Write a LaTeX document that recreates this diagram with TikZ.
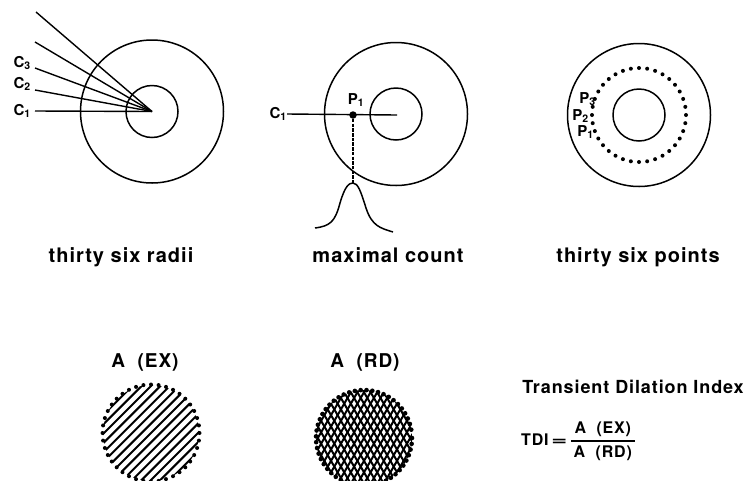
\documentclass[tikz,border=0pt]{standalone}
\usepackage{fontspec}
\setmainfont{TeX Gyre Heros}
\newfontfamily\widefont[LetterSpace=5]{TeX Gyre Heros}
\usetikzlibrary{calc}

\tikzset{
  ring/.style={line width=1.5pt},
  ray/.style={line width=1.4pt},
  lab/.style={inner sep=0pt,font=\bfseries\fontsize{15}{17}\selectfont},
  caption/.style={inner sep=0pt,anchor=base,font=\widefont\bfseries\fontsize{20}{24}\selectfont},
  title/.style={inner sep=0pt,anchor=base,font=\widefont\bfseries\fontsize{19}{22}\selectfont},
  dotpt/.style={circle,fill,inner sep=0pt,minimum size=#1},
}

\begin{document}
\begin{tikzpicture}[x=1pt,y=-1pt]
\useasboundingbox (0,0) rectangle (746,480);
\def\R{71.5}
\def\r{26}

% thirty six radii
\coordinate (o1) at (152,111.5);
\draw[ring] (o1) circle (\R) (o1) circle (\r);
\coordinate (e1) at (35,111);
\coordinate (e2) at (35,90);
\coordinate (e3) at (35,68);
\coordinate (e4) at (35,42);
\coordinate (e5) at (36,12);
\node[lab,anchor=east] (c1) at (31,111) {C\textsubscript{1}};
\node[lab,anchor=east] (c2) at (31,84) {C\textsubscript{2}};
\node[lab,anchor=east] (c3) at (31,63) {C\textsubscript{3}};
\foreach \i in {1,...,5}
  \draw[ray] (e\i) -- (o1);
\node[caption] (cap1) at (121,262) {thirty six radii};

% maximal count
\coordinate (o2) at (396,114);
\draw[ring] (o2) circle (\R) (o2) circle (\r);
\node[lab,anchor=east] (c1b) at (287,114) {C\textsubscript{1}};
\draw[ray] (c1b.east) -- ($(o2)+(1,1)$);
\node[dotpt=7.5pt] (p1) at (353,115) {};
\node[lab] (p1lab) at (356,100) {P\textsubscript{1}};
\coordinate (peak) at (353,183);
\draw[line width=2.4pt,dash pattern=on 3.5pt off 1.2pt] (p1) -- (peak);
\draw[ring] (315,228) .. controls (330,226) and (335,222) .. (340,203)
  .. controls (345,186) and (349,183) .. (peak)
  .. controls (358,183) and (361,192) .. (366,208)
  .. controls (372,226) and (380,228) .. (393,232);
\node[caption] (cap2) at (388,262) {maximal count};

% thirty six points
\coordinate (o3) at (639,115);
\draw[ring] (o3) circle (\R) (o3) circle (\r);
\foreach \a in {0,10,...,350}
  \fill ($(o3)+(\a:47)$) circle (2);
\node[lab,anchor=east] (p1c) at ($(o3)+(160:47)+(-1,1)$) {P\textsubscript{1}};
\node[lab,anchor=east] (p2c) at ($(o3)+(180:47)+(-3,1)$) {P\textsubscript{2}};
\node[lab,anchor=east] (p3c) at ($(o3)+(200:47)+(1,0)$) {P\textsubscript{3}};
\node[caption] (cap3) at (638,262) {thirty six points};

% A (EX)
\node[title] (ex) at (145,367) {A\ \ (EX)};
\coordinate (exc) at (151,433);
\begin{scope}
  \clip (exc) circle (48);
  \foreach \k in {-8,...,8}
    \draw[line width=2pt] ($(exc)+(\k*4.7,\k*4.7)+(-60,60)$) -- ($(exc)+(\k*4.7,\k*4.7)+(60,-60)$);
\end{scope}
\foreach \a in {0,9,...,351}
  \fill ($(exc)+(\a:48.5)$) circle (2);

% A (RD)
\node[title] (rd) at (365,367) {A\ \ (RD)};
\coordinate (rdc) at (364,438);
\begin{scope}
  \clip (rdc) circle (48);
  \foreach \k in {-14,...,14} {
    \draw[line width=2pt] ($(rdc)+(\k*6.6,0)+(-30,-52)$) -- ($(rdc)+(\k*6.6,0)+(30,52)$);
    \draw[line width=2pt] ($(rdc)+(\k*6.6,0)+(30,-52)$) -- ($(rdc)+(\k*6.6,0)+(-30,52)$);
  }
\end{scope}
\foreach \a in {0,7,...,353}
  \fill ($(rdc)+(\a:48)$) circle (2.3);

% index
\node[title,font=\widefont\bfseries\fontsize{18}{21}\selectfont] (tdititle) at (633,393) {Transient Dilation Index};
\node[inner sep=0pt,font=\widefont\bfseries\fontsize{16}{19}\selectfont,anchor=west] (tdi) at (521,441)
  {$\displaystyle\mbox{TDI\,\scalebox{1.7}[1]{=}\,}{\mbox{\,A\ \ (EX)\,}\above1.3pt\mbox{\,A\ \ (RD)\,}}$};
\end{tikzpicture}
\end{document}
